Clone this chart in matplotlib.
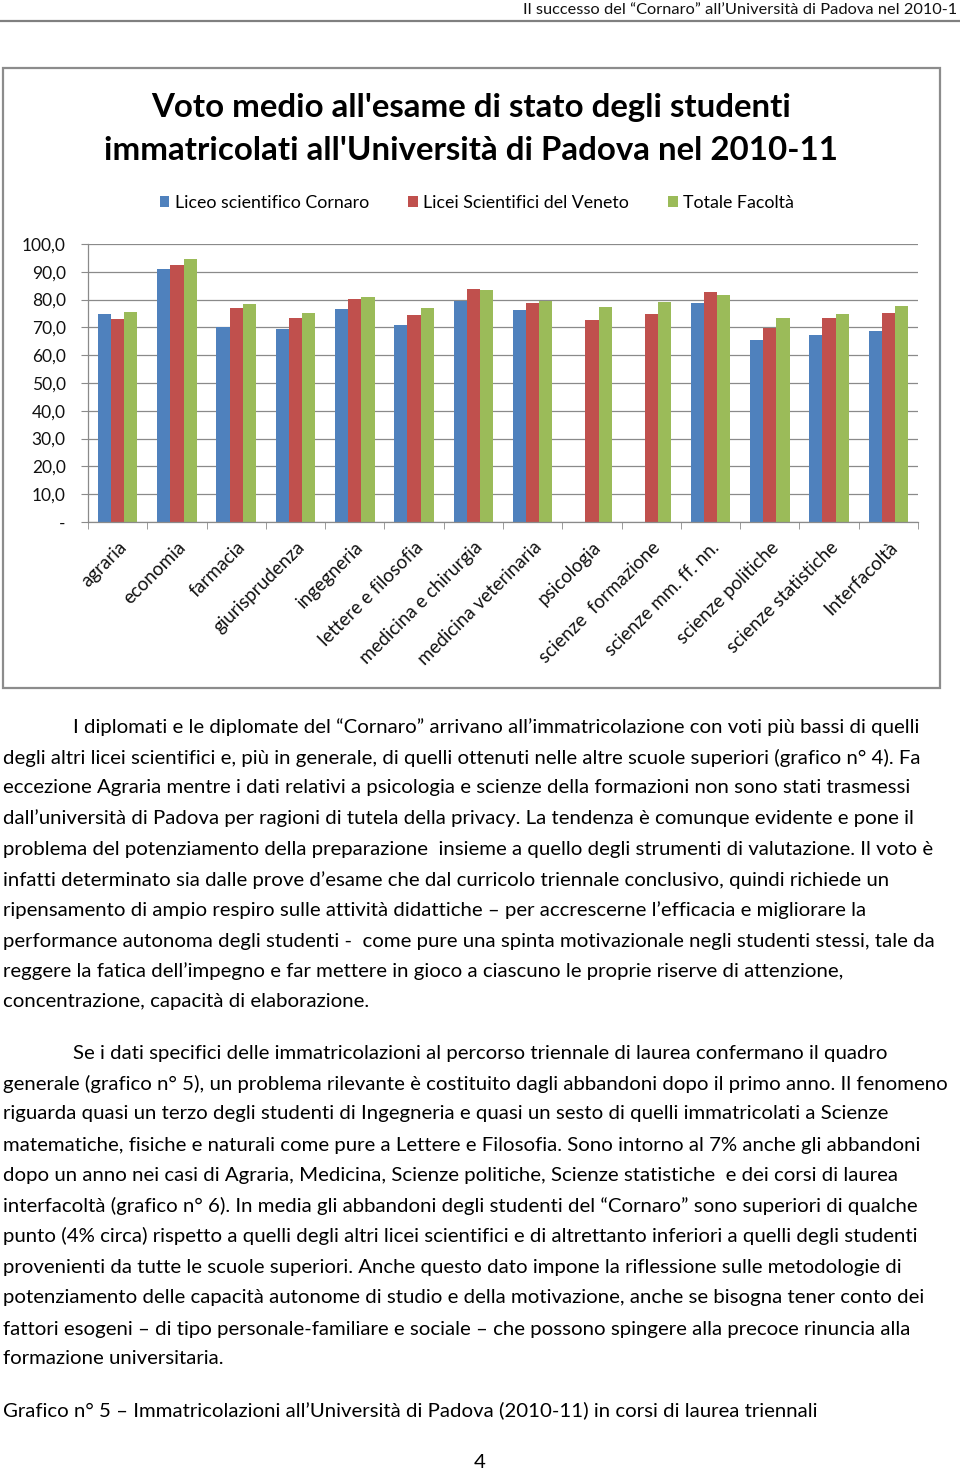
import numpy as np
import matplotlib
matplotlib.use("Agg")
import matplotlib.pyplot as plt
from matplotlib.patches import Rectangle
from matplotlib.lines import Line2D

plt.rcParams['font.family'] = ['Lato', 'DejaVu Sans']

W, H = 960, 1474

# chart data
categories = ["agraria", "economia", "farmacia", "giurisprudenza", "ingegneria",
              "lettere e filosofia", "medicina e chirurgia", "medicina veterinaria",
              "psicologia", "scienze  formazione", "scienze mm. ff. nn.",
              "scienze politiche", "scienze statistiche", "Interfacoltà"]
cornaro = [74.8, 91.0, 70.0, 69.4, 76.6, 70.7, 79.4, 76.2, np.nan, np.nan, 78.6, 65.3, 67.3, 68.7]
veneto = [73.2, 92.4, 77.0, 73.5, 80.3, 74.4, 83.8, 78.6, 72.5, 74.9, 82.8, 69.9, 73.5, 75.3]
totale = [75.5, 94.7, 78.3, 75.3, 81.0, 76.8, 83.4, 79.5, 77.2, 79.0, 81.6, 73.5, 74.9, 77.7]
series_names = ["Liceo scientifico Cornaro", "Licei Scientifici del Veneto", "Totale Facoltà"]
colors = ["#4F81BD", "#C0504D", "#9BBB59"]
yticks = [0, 10, 20, 30, 40, 50, 60, 70, 80, 90, 100]
ytick_labels = ["-", "10,0", "20,0", "30,0", "40,0", "50,0", "60,0", "70,0", "80,0", "90,0", "100,0"]
title_lines = ["Voto medio all'esame di stato degli studenti",
               "immatricolati all'Università di Padova nel 2010-11"]

header = "Il successo del \u201cCornaro\u201d all\u2019Università di Padova nel 2010-1"

par1 = [
    "I diplomati e le diplomate del \u201cCornaro\u201d arrivano all\u2019immatricolazione con voti più bassi di quelli",
    "degli altri licei scientifici e, più in generale, di quelli ottenuti nelle altre scuole superiori (grafico n° 4). Fa",
    "eccezione Agraria mentre i dati relativi a psicologia e scienze della formazioni non sono stati trasmessi",
    "dall\u2019università di Padova per ragioni di tutela della privacy. La tendenza è comunque evidente e pone il",
    "problema del potenziamento della preparazione  insieme a quello degli strumenti di valutazione. Il voto è",
    "infatti determinato sia dalle prove d\u2019esame che dal curricolo triennale conclusivo, quindi richiede un",
    "ripensamento di ampio respiro sulle attività didattiche \u2013 per accrescerne l\u2019efficacia e migliorare la",
    "performance autonoma degli studenti -  come pure una spinta motivazionale negli studenti stessi, tale da",
    "reggere la fatica dell\u2019impegno e far mettere in gioco a ciascuno le proprie riserve di attenzione,",
    "concentrazione, capacità di elaborazione.",
]
par2 = [
    "Se i dati specifici delle immatricolazioni al percorso triennale di laurea confermano il quadro",
    "generale (grafico n° 5), un problema rilevante è costituito dagli abbandoni dopo il primo anno. Il fenomeno",
    "riguarda quasi un terzo degli studenti di Ingegneria e quasi un sesto di quelli immatricolati a Scienze",
    "matematiche, fisiche e naturali come pure a Lettere e Filosofia. Sono intorno al 7% anche gli abbandoni",
    "dopo un anno nei casi di Agraria, Medicina, Scienze politiche, Scienze statistiche  e dei corsi di laurea",
    "interfacoltà (grafico n° 6). In media gli abbandoni degli studenti del \u201cCornaro\u201d sono superiori di qualche",
    "punto (4% circa) rispetto a quelli degli altri licei scientifici e di altrettanto inferiori a quelli degli studenti",
    "provenienti da tutte le scuole superiori. Anche questo dato impone la riflessione sulle metodologie di",
    "potenziamento delle capacità autonome di studio e della motivazione, anche se bisogna tener conto dei",
    "fattori esogeni \u2013 di tipo personale-familiare e sociale \u2013 che possono spingere alla precoce rinuncia alla",
    "formazione universitaria.",
]
caption = "Grafico n° 5 \u2013 Immatricolazioni all\u2019Università di Padova (2010-11) in corsi di laurea triennali"


def fx(x):
    return x / W


def fy(y):
    return 1 - y / H


fig = plt.figure(figsize=(W / 100, H / 100), dpi=100)
renderer = fig.canvas.get_renderer()


def fit(texts, ref, target):
    w = ref.get_window_extent(renderer).width
    s = target / w
    for t in texts:
        t.set_fontsize(t.get_fontsize() * s)


# page header
h = fig.text(fx(957), fy(10), header, ha="right", va="center", fontsize=11, color="#111111")
fit([h], h, 434)
fig.add_artist(Line2D([0, 1], [fy(21), fy(21)], color="#808080", lw=1.6))

# chart frame
fig.add_artist(Rectangle((fx(3), fy(688)), fx(940) - fx(3), fy(68) - fy(688),
                         fill=False, edgecolor="#8c8c8c", lw=1.6))

# title
tt = [fig.text(fx(471), fy(y), s, ha="center", va="center", fontsize=26,
               fontweight="bold", color="#000000")
      for y, s in zip([107, 150], title_lines)]
fit(tt, tt[1], 734)

# plot area
ax = fig.add_axes([fx(88), fy(522), fx(918) - fx(88), fy(244) - fy(522)])
x = np.arange(len(categories))
bw = 1 / 4.5
for i, (vals, c, name) in enumerate(zip([cornaro, veneto, totale], colors, series_names)):
    ax.bar(x + (i - 1) * bw, vals, width=bw, color=c, label=name, zorder=2)

ax.set_xlim(-0.5, len(categories) - 0.5)
ax.set_ylim(0, 100)
ax.set_axisbelow(True)
ax.yaxis.grid(True, color="#8a8a8a", lw=0.9)
for s in ["top", "right"]:
    ax.spines[s].set_visible(False)
for s in ["left", "bottom"]:
    ax.spines[s].set_color("#8a8a8a")
    ax.spines[s].set_linewidth(0.9)

ax.set_yticks(yticks)
ax.set_yticklabels(ytick_labels, fontsize=12.5, color="#111111")
ax.tick_params(axis="y", length=5, color="#8a8a8a", pad=11)

ax.set_xticks(x)
ax.set_xticks(np.arange(-0.5, len(categories)), minor=True)
ax.tick_params(axis="x", which="major", length=0, pad=12)
ax.tick_params(axis="x", which="minor", length=5, color="#8a8a8a")
ax.set_xticklabels(categories, rotation=45, ha="right", rotation_mode="anchor",
                   fontsize=13.5, color="#111111")

# legend
leg = fig.legend(loc="center", bbox_to_anchor=(fx(477), fy(203)), ncol=3, frameon=False,
                 fontsize=12.8, handlelength=0.55, handleheight=0.55, handletextpad=0.3,
                 columnspacing=2.2)

# body text
body = []
ys1 = [727, 758, 788, 818, 849, 880, 910, 941, 971, 1002]
ys2 = [1053, 1084, 1114, 1145, 1175, 1206, 1236, 1267, 1298, 1329, 1359]
for par, ys in [(par1, ys1), (par2, ys2)]:
    for k, (s, y) in enumerate(zip(par, ys)):
        xx = 73 if k == 0 else 3
        body.append(fig.text(fx(xx), fy(y), s, ha="left", va="center", fontsize=13, color="#000000"))
body.append(fig.text(fx(3), fy(1410), caption, ha="left", va="center", fontsize=13, color="#000000"))
body.append(fig.text(fx(480), fy(1463), "4", ha="center", va="center", fontsize=13, color="#000000"))
fit(body, body[11], 943)

fig.savefig("out.png", dpi=100)
